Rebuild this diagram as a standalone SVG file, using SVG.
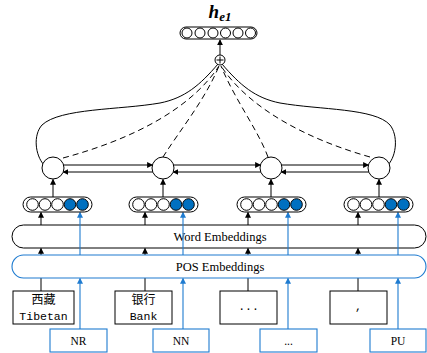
<svg xmlns="http://www.w3.org/2000/svg" width="427" height="353" viewBox="0 0 427 353">
<defs>
<marker id="ak" viewBox="0 0 8 8" refX="7" refY="4" markerWidth="6" markerHeight="6" orient="auto" markerUnits="userSpaceOnUse"><path d="M0,0 L8,4 L0,8 Z" fill="#000"/></marker>
<marker id="ab" viewBox="0 0 8 8" refX="7" refY="4" markerWidth="6" markerHeight="6" orient="auto" markerUnits="userSpaceOnUse"><path d="M0,0 L8,4 L0,8 Z" fill="#1E7BD0"/></marker>
</defs>
<style>
.k{stroke:#000;stroke-width:1;fill:none}
.b{stroke:#1E7BD0;stroke-width:1.1;fill:none}
.d{stroke:#000;stroke-width:1;fill:none;stroke-dasharray:6,4}
.c{fill:#fff;stroke:#000;stroke-width:1}
.cf{fill:#0070C0;stroke:#000;stroke-width:1}
.box{fill:#fff;stroke:#000;stroke-width:1}
.bbox{fill:#fff;stroke:#1E7BD0;stroke-width:1.1}
.t{font-family:"Liberation Serif","DejaVu Serif",serif;font-size:11.5px;fill:#000;text-anchor:middle}
.e{font-family:"Liberation Serif","DejaVu Serif",serif;font-size:12.5px;fill:#000;text-anchor:middle}
.m{font-family:"Liberation Mono","Noto Sans CJK SC",monospace;font-size:11.5px;fill:#000;text-anchor:middle}
.cj{font-family:"Noto Sans CJK SC",sans-serif;font-size:12px;fill:#000;text-anchor:middle}
</style>
<rect width="427" height="353" fill="#fff"/>

<g id="connectors">
<path class="k" d="M218,64 C200,85 185,98 160,103 C120,110 60,108 42,125 C33,135 35,155 44,165"/>
<path class="k" d="M222,64 C240,85 255,98 280,103 C320,110 375,108 390,125 C398,135 397,155 388,165"/>
<path class="d" d="M63,158 C130,140 190,110 219,66"/>
<path class="d" d="M163,157 C180,130 205,100 219,66"/>
<path class="d" d="M268,157 C258,130 235,100 221,66"/>
<path class="d" d="M370,157 C310,140 250,110 221,66"/>
<line class="k" x1="220" y1="55" x2="220" y2="40" marker-end="url(#ak)"/>
<line class="k" x1="63.6" y1="165" x2="152.4" y2="165" marker-end="url(#ak)"/>
<line class="k" x1="173.6" y1="165" x2="260.4" y2="165" marker-end="url(#ak)"/>
<line class="k" x1="281.6" y1="165" x2="368.4" y2="165" marker-end="url(#ak)"/>
<line class="k" x1="152.8" y1="172" x2="63.2" y2="172" marker-end="url(#ak)"/>
<line class="k" x1="260.8" y1="172" x2="173.2" y2="172" marker-end="url(#ak)"/>
<line class="k" x1="368.8" y1="172" x2="281.2" y2="172" marker-end="url(#ak)"/>
<line class="k" x1="53" y1="197" x2="53" y2="179.5" marker-end="url(#ak)"/>
<line class="k" x1="163" y1="197" x2="163" y2="179.5" marker-end="url(#ak)"/>
<line class="k" x1="271" y1="197" x2="271" y2="179.5" marker-end="url(#ak)"/>
<line class="k" x1="379" y1="197" x2="379" y2="179.5" marker-end="url(#ak)"/>
<line class="k" x1="41" y1="225" x2="41" y2="212.5" marker-end="url(#ak)"/>
<line class="k" x1="145" y1="225" x2="145" y2="212.5" marker-end="url(#ak)"/>
<line class="k" x1="248" y1="225" x2="248" y2="212.5" marker-end="url(#ak)"/>
<line class="k" x1="358" y1="225" x2="358" y2="212.5" marker-end="url(#ak)"/>
<line class="k" x1="41" y1="255" x2="41" y2="248.5" marker-end="url(#ak)"/>
<line class="k" x1="145" y1="255" x2="145" y2="248.5" marker-end="url(#ak)"/>
<line class="k" x1="248" y1="255" x2="248" y2="248.5" marker-end="url(#ak)"/>
<line class="k" x1="358" y1="255" x2="358" y2="248.5" marker-end="url(#ak)"/>
<line class="k" x1="41" y1="291" x2="41" y2="278"/>
<line class="k" x1="145" y1="291" x2="145" y2="278"/>
<line class="k" x1="248" y1="291" x2="248" y2="278"/>
<line class="k" x1="358" y1="291" x2="358" y2="278"/>
</g>

<g id="word-embeddings">
<rect class="box" x="12" y="225" width="414" height="23" rx="11.5"/>
<text class="e" x="220" y="241">Word Embeddings</text>
</g>

<g id="pos-embeddings">
<rect class="bbox" x="12" y="255" width="414" height="23" rx="11.5"/>
<text class="e" x="220" y="271">POS Embeddings</text>
</g>

<g id="blue-connectors">
<line class="b" x1="80" y1="255" x2="80" y2="212.5" marker-end="url(#ab)"/>
<line class="b" x1="183" y1="255" x2="183" y2="212.5" marker-end="url(#ab)"/>
<line class="b" x1="288" y1="255" x2="288" y2="212.5" marker-end="url(#ab)"/>
<line class="b" x1="398" y1="255" x2="398" y2="212.5" marker-end="url(#ab)"/>
<line class="b" x1="80" y1="329" x2="80" y2="278.5" marker-end="url(#ab)"/>
<line class="b" x1="183" y1="329" x2="183" y2="278.5" marker-end="url(#ab)"/>
<line class="b" x1="288" y1="329" x2="288" y2="278.5" marker-end="url(#ab)"/>
<line class="b" x1="398" y1="329" x2="398" y2="278.5" marker-end="url(#ab)"/>
</g>

<g id="output">
<text x="220" y="18" text-anchor="middle" font-family="Liberation Serif, serif" font-weight="bold" font-style="italic" font-size="19">h<tspan font-size="13" dy="3">e1</tspan></text>
<rect class="box" x="180" y="27" width="77" height="12" rx="6"/>
<circle class="c" cx="187" cy="33" r="5"/>
<circle class="c" cx="200" cy="33" r="5"/>
<circle class="c" cx="213" cy="33" r="5"/>
<circle class="c" cx="225.5" cy="33" r="5"/>
<circle class="c" cx="238" cy="33" r="5"/>
<circle class="c" cx="250.5" cy="33" r="5"/>
</g>

<g id="plus">
<circle class="c" cx="220" cy="60" r="5"/>
<path class="k" d="M216.5,60 H223.5 M220,56.5 V63.5" stroke-width="0.8"/>
</g>

<g id="hidden-1"><circle class="c" cx="53" cy="168" r="11"/></g>
<g id="hidden-2"><circle class="c" cx="163" cy="168" r="11"/></g>
<g id="hidden-3"><circle class="c" cx="271" cy="168" r="11"/></g>
<g id="hidden-4"><circle class="c" cx="379" cy="168" r="11"/></g>

<g id="vec-1">
<rect class="box" x="23" y="197" width="69" height="15" rx="7.5"/>
<circle class="c" cx="32.5" cy="204.5" r="5.8"/>
<circle class="c" cx="45" cy="204.5" r="5.8"/>
<circle class="c" cx="57.5" cy="204.5" r="5.8"/>
<circle class="cf" cx="70" cy="204.5" r="5.8"/>
<circle class="cf" cx="82.5" cy="204.5" r="5.8"/>
</g>
<g id="vec-2">
<rect class="box" x="129" y="197" width="69" height="15" rx="7.5"/>
<circle class="c" cx="138.5" cy="204.5" r="5.8"/>
<circle class="c" cx="151" cy="204.5" r="5.8"/>
<circle class="c" cx="163.5" cy="204.5" r="5.8"/>
<circle class="cf" cx="176" cy="204.5" r="5.8"/>
<circle class="cf" cx="188.5" cy="204.5" r="5.8"/>
</g>
<g id="vec-3">
<rect class="box" x="237" y="197" width="69" height="15" rx="7.5"/>
<circle class="c" cx="246.5" cy="204.5" r="5.8"/>
<circle class="c" cx="259" cy="204.5" r="5.8"/>
<circle class="c" cx="271.5" cy="204.5" r="5.8"/>
<circle class="cf" cx="284" cy="204.5" r="5.8"/>
<circle class="cf" cx="296.5" cy="204.5" r="5.8"/>
</g>
<g id="vec-4">
<rect class="box" x="344" y="197" width="69" height="15" rx="7.5"/>
<circle class="c" cx="353.5" cy="204.5" r="5.8"/>
<circle class="c" cx="366" cy="204.5" r="5.8"/>
<circle class="c" cx="378.5" cy="204.5" r="5.8"/>
<circle class="cf" cx="391" cy="204.5" r="5.8"/>
<circle class="cf" cx="403.5" cy="204.5" r="5.8"/>
</g>

<g id="tok-1">
<rect class="box" x="13" y="291" width="61" height="33"/>
<text class="cj" x="43.5" y="304">西藏</text>
<text class="m" x="43.5" y="320">Tibetan</text>
</g>
<g id="tok-2">
<rect class="box" x="115" y="291" width="57" height="33"/>
<text class="cj" x="143.5" y="304">银行</text>
<text class="m" x="143.5" y="320">Bank</text>
</g>
<g id="tok-3">
<rect class="box" x="220" y="291" width="57" height="33"/>
<text class="m" x="248.5" y="310">...</text>
</g>
<g id="tok-4">
<rect class="box" x="330" y="291" width="57" height="33"/>
<text class="m" x="358.5" y="310">,</text>
</g>

<g id="pos-1">
<rect class="bbox" x="50" y="329" width="57" height="23"/>
<text class="t" x="78.5" y="345">NR</text>
</g>
<g id="pos-2">
<rect class="bbox" x="153" y="329" width="56" height="23"/>
<text class="t" x="181" y="345">NN</text>
</g>
<g id="pos-3">
<rect class="bbox" x="260" y="329" width="57" height="23"/>
<text class="t" x="288.5" y="345">...</text>
</g>
<g id="pos-4">
<rect class="bbox" x="370" y="329" width="56" height="23"/>
<text class="t" x="398" y="345">PU</text>
</g>
</svg>
